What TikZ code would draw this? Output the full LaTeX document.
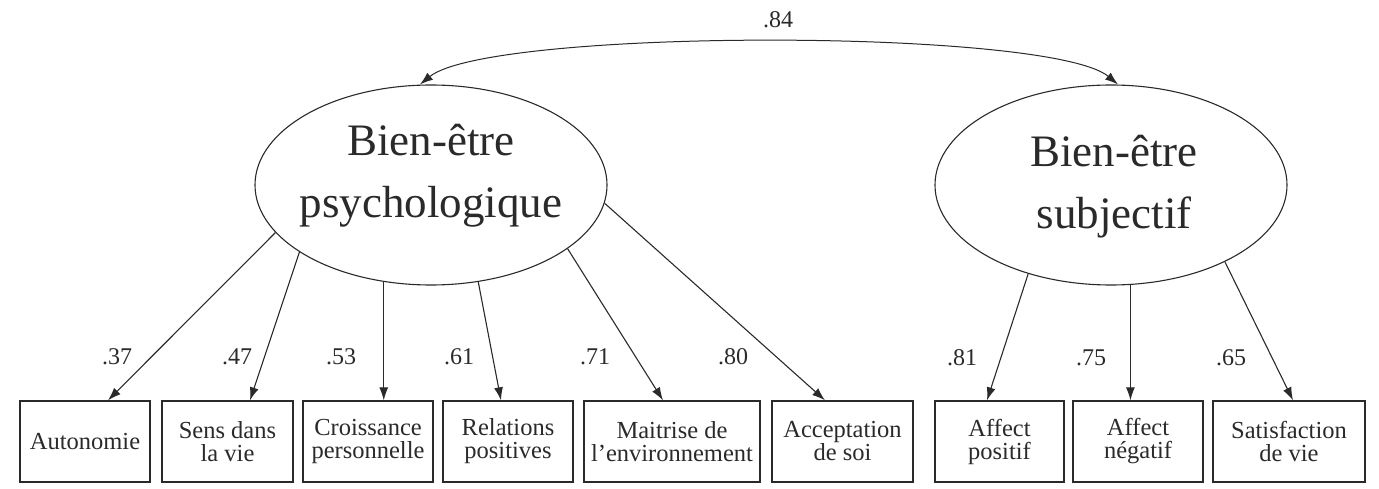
\documentclass[tikz,border=0pt]{standalone}
\usepackage{fontspec}
\setmainfont{Liberation Serif}
\usetikzlibrary{shapes.geometric,arrows.meta}
\definecolor{ink}{HTML}{2A2A2A}
\tikzset{
  latent/.style={ellipse,draw=ink,line width=1.1pt,minimum width=352pt,minimum height=200pt,inner sep=0pt},
  lattext/.style={align=center,text=ink,font=\fontsize{45}{62}\selectfont,inner sep=0pt},
  indic/.style={rectangle,draw=ink,line width=1.3pt,minimum height=81pt,inner sep=0pt,align=center,text=ink,font=\fontsize{24.5}{23}\selectfont},
  load/.style={draw=ink,line width=1.1pt,-{Latex[length=13pt,width=9pt]}},
  coef/.style={text=ink,font=\fontsize{24}{24}\selectfont,inner sep=0pt}
}
\begin{document}
\begin{tikzpicture}[x=1pt,y=-1pt]
\useasboundingbox (0,0) rectangle (1379,489);
% latent variables
\node[latent] (psy) at (431,185) {};
\node[lattext] (psyT) at (431,176) {Bien-être\\psychologique};
\node[latent] (sub) at (1111,185) {};
\node[lattext] (subT) at (1114,187) {Bien-être\\subjectif};
% indicators
\node[indic,minimum width=130pt] (b1) at (85,441.5) {Autonomie};
\node[indic,minimum width=131pt] (b2) at (227.5,441.5) {Sens dans\\la vie};
\node[indic,minimum width=130pt] (b3) at (368,441.5) {Croissance\\personnelle};
\node[indic,minimum width=130pt] (b4) at (508,441.5) {Relations\\positives};
\node[indic,minimum width=176pt] (b5) at (672,441.5) {Maitrise de\\l'environnement};
\node[indic,minimum width=141pt] (b6) at (842.5,441.5) {Acceptation\\de soi};
\node[indic,minimum width=129pt] (b7) at (999.5,441.5) {Affect\\positif};
\node[indic,minimum width=130pt] (b8) at (1138,441.5) {Affect\\négatif};
\node[indic,minimum width=152pt] (b9) at (1289,441.5) {Satisfaction\\de vie};
% loadings
\draw[load] (psy.197) -- ([xshift=23pt]b1.north);
\draw[load] (psy.207.6) -- ([xshift=22.5pt]b2.north);
\draw[load] (psy.244.5) -- (psy.244.5 |- b3.north);
\draw[load] (psy.296) -- ([xshift=-7pt]b4.north);
\draw[load] (psy.335.9) -- ([xshift=-9pt]b5.north);
\draw[load] (psy.354) -- ([xshift=-17.5pt]b6.north);
\draw[load] (sub.227.3) -- ([xshift=-12.5pt]b7.north);
\draw[load] (sub.281.4) -- (sub.281.4 |- b8.north);
\draw[load] (sub.326.4) -- ([xshift=4pt]b9.north);
% coefficients
\node[coef] (c1) at (117,357) {.37};
\node[coef] (c2) at (237,357) {.47};
\node[coef] (c3) at (341,357) {.53};
\node[coef] (c4) at (459,357) {.61};
\node[coef] (c5) at (595,357) {.71};
\node[coef] (c6) at (733,357) {.80};
\node[coef] (c7) at (962,358) {.81};
\node[coef] (c8) at (1091,358) {.75};
\node[coef] (c9) at (1231,358) {.65};
% correlation
\draw[draw=ink,line width=1pt,{Latex[length=13pt,width=9pt]}-{Latex[length=13pt,width=9pt]}]
  ([xshift=-11pt]psy.north) .. controls (490,28) and (1050,28) .. ([xshift=7pt]sub.north);
\node[coef] (c0) at (778,20) {.84};
\end{tikzpicture}
\end{document}
